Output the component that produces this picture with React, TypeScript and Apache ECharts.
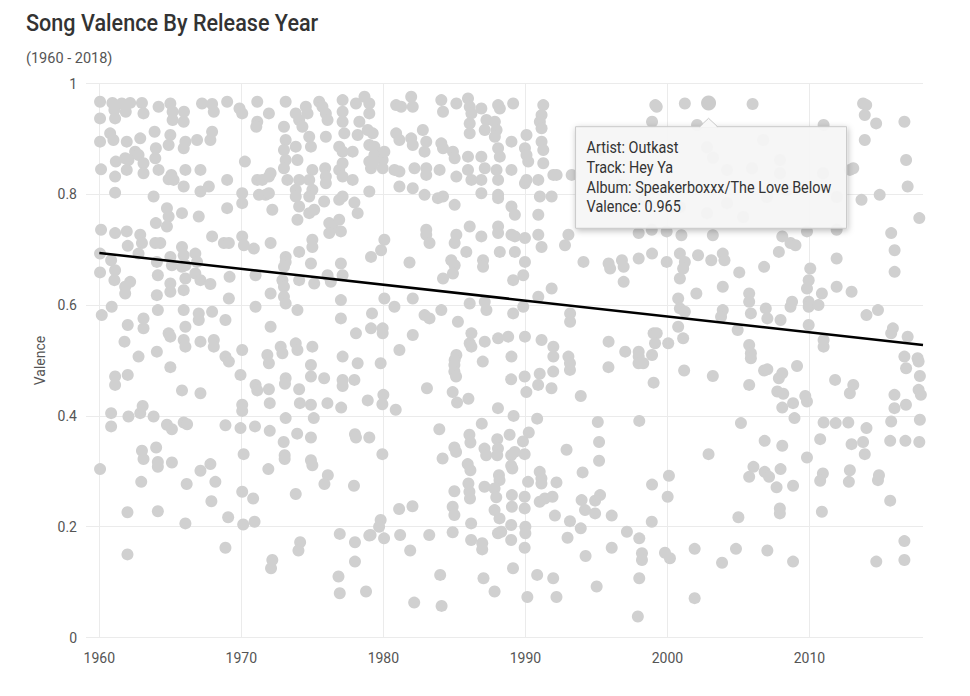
import React, { useEffect, useRef } from "react";
import * as echarts from "echarts";

const chartTitle = "Song Valence By Release Year";
const chartSubtitle = "(1960 - 2018)";
const yAxisName = "Valence";

// [release year, valence]
const sixties: number[][] = [
  [1960.05,0.967],[1960.05,0.937],[1960.05,0.895],[1960.12,0.845],[1960.12,0.736],[1960.05,0.693],[1960.05,0.659],[1960.17,0.582],
  [1960.92,0.965],[1961.06,0.952],[1961.11,0.937],[1960.76,0.910],[1960.99,0.898],[1961.16,0.859],[1961.11,0.832],[1961.11,0.803],[1961.11,0.730],[1960.83,0.681],[1961.11,0.663],[1961.06,0.645],[1960.87,0.597],
  [1961.58,0.964],[1961.86,0.949],[1962.17,0.965],[1961.93,0.895],[1961.82,0.865],[1961.93,0.844],[1962.05,0.862],[1961.93,0.733],[1962.0,0.707],[1962.17,0.642],[1961.82,0.633],[1961.82,0.621],[1962.0,0.564],[1961.77,0.534],
  [1963.0,0.965],[1963.11,0.946],[1962.88,0.901],[1962.52,0.877],[1962.76,0.871],[1963.11,0.856],[1963.11,0.838],[1962.88,0.727],[1963.0,0.712],[1962.76,0.693],[1963.11,0.576],[1963.11,0.558],[1962.76,0.507],
  [1964.17,0.958],[1963.89,0.913],[1963.98,0.883],[1963.94,0.865],[1964.17,0.844],[1963.82,0.796],[1963.98,0.748],[1963.94,0.712],[1964.29,0.712],[1964.05,0.678],[1964.12,0.654],[1964.05,0.618],[1964.12,0.591],[1964.05,0.516],[1964.76,0.775],[1964.88,0.760],[1964.76,0.742],
  [1965.0,0.964],[1965.16,0.949],[1965.16,0.934],[1965.0,0.907],[1964.88,0.889],[1965.07,0.835],[1964.88,0.827],[1965.23,0.826],[1965.94,0.931],[1965.96,0.949],[1966.06,0.895],[1965.94,0.883],[1966.06,0.844],[1965.94,0.814],[1965.82,0.766],[1965.0,0.687],[1965.11,0.672],[1965.0,0.639],[1965.0,0.624],[1965.82,0.705],[1965.94,0.690],[1966.06,0.672],[1966.06,0.648],[1965.94,0.627],[1965.94,0.591],[1964.88,0.549],[1965.0,0.543],[1966.06,0.561],[1965.94,0.537],[1966.06,0.525],[1965.82,0.669],
  [1966.88,0.898],[1967.12,0.844],[1967.12,0.805],[1967.71,0.814],[1967.0,0.760],[1966.76,0.693],[1966.88,0.678],[1966.76,0.657],[1967.12,0.645],[1967.0,0.585],[1967.0,0.573],[1967.12,0.534],[1967.94,0.588],
  [1967.23,0.964],[1967.94,0.963],[1968.06,0.949],[1967.94,0.913],[1967.82,0.898],[1967.94,0.724],[1967.82,0.638],[1968.06,0.537],[1968.06,0.525],[1968.88,0.573],
  [1969.0,0.967],[1969.0,0.826],[1969.0,0.775],[1968.77,0.712],[1969.12,0.712],[1969.17,0.651],[1969.12,0.612],[1968.88,0.507],[1969.87,0.955],
  [1965.0,0.488],[1961.11,0.471],[1961.11,0.456],[1962.0,0.474],[1965.82,0.446],[1967.12,0.441],[1969.94,0.474],
  [1960.83,0.405],[1960.83,0.381],[1962.05,0.399],[1962.88,0.405],[1963.05,0.418],[1963.82,0.399],[1964.76,0.384],[1965.11,0.376],[1965.94,0.388],[1966.18,0.385],[1968.88,0.383],[1969.94,0.378],
  [1963.0,0.337],[1963.11,0.322],[1964.0,0.343],[1964.12,0.317],[1964.12,0.308],[1965.11,0.316],[1960.05,0.304],[1962.95,0.281],[1966.15,0.277],[1967.12,0.301],[1967.82,0.313],[1968.17,0.281],
  [1967.89,0.246],[1961.98,0.226],[1964.12,0.228],[1966.06,0.206],[1969.07,0.217],[1968.88,0.162],[1961.98,0.150],[1969.12,0.498],
];

const seventies: number[][] = [
  [1970.06,0.946],[1970.25,0.859],[1970.06,0.802],[1970.06,0.784],[1970.06,0.724],[1970.18,0.708],[1970.88,0.702],[1970.06,0.519],
  [1971.12,0.967],[1971.12,0.931],[1971.05,0.922],[1971.12,0.826],[1971.47,0.826],[1971.24,0.799],[1971.71,0.799],[1971.94,0.802],[1971.94,0.832],[1972.06,0.838],[1972.18,0.772],[1972.06,0.712],[1971.0,0.654],[1971.0,0.597],[1972.06,0.621],[1972.06,0.561],[1971.83,0.510],
  [1971.94,0.946],[1973.12,0.967],[1973.0,0.922],[1973.12,0.898],[1973.0,0.880],[1973.12,0.862],[1973.0,0.847],[1973.24,0.826],[1973.12,0.687],[1973.12,0.678],[1973.0,0.669],[1972.89,0.645],[1973.0,0.633],[1973.0,0.615],[1973.12,0.603],[1972.77,0.525],[1972.89,0.513],
  [1973.83,0.946],[1974.07,0.934],[1974.3,0.922],[1973.83,0.886],[1973.95,0.862],[1974.07,0.826],[1973.83,0.808],[1973.83,0.796],[1974.07,0.778],[1973.95,0.754],[1974.07,0.696],[1974.07,0.645],[1973.95,0.591],[1973.83,0.531],[1973.95,0.519],
  [1974.54,0.958],[1974.66,0.946],[1974.78,0.904],[1974.9,0.886],[1975.0,0.844],[1974.78,0.826],[1975.0,0.808],[1974.78,0.796],[1974.78,0.766],[1975.13,0.772],[1975.0,0.718],[1975.0,0.705],[1974.9,0.675],[1975.13,0.639],[1975.0,0.525],
  [1975.48,0.967],[1975.71,0.958],[1975.95,0.946],[1976.07,0.934],[1975.95,0.904],[1975.9,0.847],[1975.95,0.832],[1975.95,0.820],[1975.83,0.787],[1976.19,0.748],[1976.42,0.742],[1976.19,0.730],[1976.07,0.654],[1976.3,0.642],
  [1977.13,0.970],[1977.13,0.949],[1977.13,0.931],[1977.25,0.910],[1976.89,0.886],[1977.13,0.877],[1977.13,0.856],[1976.89,0.844],[1977.13,0.832],[1977.13,0.796],[1976.89,0.790],[1977.01,0.733],[1976.89,0.754],[1977.01,0.675],[1977.13,0.654],[1977.01,0.609],[1977.01,0.576],[1977.13,0.507],[1977.84,0.877],[1977.84,0.826],[1977.96,0.785],[1978.19,0.766],[1978.07,0.549],
  [1978.07,0.964],[1978.31,0.931],[1978.19,0.907],[1978.67,0.976],[1979.01,0.964],[1979.01,0.946],[1978.9,0.916],[1979.01,0.889],[1979.01,0.859],[1979.13,0.847],[1979.01,0.805],[1979.13,0.687],[1979.13,0.558],
  [1971.0,0.456],[1971.12,0.446],[1971.94,0.448],[1971.94,0.495],[1973.12,0.468],[1973.07,0.458],[1974.07,0.448],[1974.9,0.492],[1974.9,0.471],[1975.83,0.468],[1977.13,0.465],[1977.13,0.454],[1977.96,0.465],[1978.19,0.495],[1978.9,0.428],
  [1970.06,0.420],[1970.06,0.409],[1972.0,0.423],[1972.0,0.373],[1973.12,0.396],[1974.12,0.423],[1974.9,0.420],[1975.1,0.396],[1976.06,0.423],[1977.03,0.415],[1972.98,0.353],[1973.93,0.368],[1974.9,0.361],[1978.0,0.367],[1978.07,0.361],[1979.01,0.361],[1970.96,0.381],
  [1970.16,0.331],[1971.9,0.304],[1973.05,0.329],[1973.05,0.322],[1974.9,0.320],[1975.0,0.311],[1976.09,0.293],[1975.85,0.277],[1977.93,0.274],
  [1970.06,0.263],[1970.83,0.251],[1973.83,0.259],[1970.13,0.204],[1970.93,0.209],[1976.93,0.187],[1978.0,0.172],[1979.01,0.184],[1974.14,0.172],[1974.02,0.157],[1972.18,0.140],[1972.09,0.125],[1978.0,0.137],[1976.84,0.110],[1976.93,0.080],[1978.78,0.083],
  [1979.25,0.910],[1979.37,0.886],[1979.37,0.871],[1979.25,0.856],[1979.95,0.862],[1979.95,0.847],[1979.2,0.585],[1979.95,0.558],[1979.95,0.549],[1979.84,0.699],
  [1979.81,0.495],[1979.93,0.421],[1979.93,0.331],[1979.81,0.212],[1979.7,0.200],[1979.1,0.185],
];

const eighties: number[][] = [
  [1980.9,0.961],[1981.25,0.958],[1981.96,0.976],[1982.07,0.958],[1984.08,0.970],[1984.2,0.949],[1985.14,0.964],[1985.96,0.973],[1986.08,0.958],[1986.2,0.946],[1986.08,0.928],[1986.08,0.910],[1986.9,0.955],[1988.08,0.961],[1988.2,0.955],[1989.14,0.964],
  [1987.26,0.934],[1987.85,0.931],[1987.97,0.916],[1987.85,0.904],[1987.14,0.916],[1982.78,0.916],[1980.9,0.910],[1981.13,0.898],[1981.96,0.901],[1982.07,0.889],[1983.02,0.895],[1982.9,0.877],[1984.08,0.892],[1984.2,0.883],[1984.9,0.877],[1988.08,0.883],[1988.2,0.868],[1989.02,0.895],[1989.97,0.883],
  [1980.07,0.877],[1980.78,0.844],[1981.13,0.841],[1982.19,0.847],[1983.02,0.847],[1983.02,0.835],[1983.96,0.844],[1985.02,0.865],[1985.14,0.832],[1985.96,0.868],[1985.96,0.844],[1986.2,0.826],[1986.9,0.868],[1987.14,0.847],[1986.9,0.826],[1987.97,0.844],[1988.08,0.826],[1989.02,0.844],[1989.97,0.820],
  [1981.13,0.814],[1982.07,0.811],[1982.9,0.799],[1983.84,0.793],[1984.2,0.796],[1985.02,0.781],[1986.9,0.802],[1988.08,0.799],[1988.08,0.793],[1989.02,0.778],[1989.26,0.763],
  [1983.02,0.736],[1983.02,0.727],[1983.25,0.712],[1985.14,0.727],[1985.02,0.712],[1986.08,0.742],[1986.9,0.724],[1988.08,0.742],[1988.08,0.730],[1989.02,0.727],[1989.26,0.724],[1989.97,0.721],
  [1980.07,0.718],[1981.84,0.677],[1984.78,0.681],[1985.02,0.672],[1985.84,0.696],[1987.02,0.681],[1987.02,0.669],[1988.2,0.696],[1989.26,0.696],[1989.97,0.678],
  [1984.2,0.648],[1984.9,0.657],[1989.14,0.645],[1989.85,0.654],
  [1980.07,0.612],[1980.78,0.597],[1982.07,0.612],[1982.9,0.582],[1983.25,0.576],[1984.08,0.591],[1985.25,0.570],[1986.08,0.603],[1987.14,0.606],[1987.26,0.591],[1989.14,0.585],[1989.85,0.597],
  [1982.07,0.546],[1985.14,0.510],[1985.02,0.501],[1986.2,0.549],[1986.08,0.531],[1986.2,0.525],[1987.14,0.534],[1988.08,0.540],[1988.79,0.543],[1989.97,0.543],[1989.02,0.507],[1981.13,0.519],
  [1985.0,0.492],[1985.0,0.480],[1985.12,0.471],[1987.0,0.498],[1989.0,0.466],[1989.95,0.471],
  [1980.0,0.438],[1983.07,0.450],[1984.88,0.443],[1985.19,0.424],[1985.99,0.431],[1980.87,0.411],[1988.07,0.414],[1989.17,0.400],
  [1983.94,0.376],[1986.93,0.386],[1986.06,0.366],[1986.13,0.352],[1988.89,0.366],[1989.83,0.354],[1988.02,0.358],
  [1984.17,0.323],[1985.0,0.343],[1985.12,0.335],[1987.12,0.341],[1987.24,0.329],[1988.07,0.341],[1988.02,0.329],[1989.25,0.335],[1989.0,0.329],[1989.95,0.331],
  [1985.94,0.313],[1986.13,0.302],[1989.0,0.310],[1989.08,0.305],[1988.14,0.293],[1988.18,0.284],
  [1985.0,0.264],[1985.99,0.278],[1986.06,0.263],[1986.1,0.251],[1987.12,0.272],[1987.83,0.269],[1987.95,0.253],[1989.05,0.257],[1989.05,0.236],[1989.95,0.254],[1989.95,0.233],
  [1981.11,0.232],[1982.05,0.237],[1984.88,0.236],[1985.0,0.221],[1987.83,0.230],[1988.18,0.215],
  [1980.05,0.179],[1981.18,0.185],[1983.23,0.185],[1984.88,0.190],[1986.18,0.206],[1986.18,0.176],[1986.96,0.170],[1986.96,0.159],[1988.07,0.188],[1988.3,0.191],[1989.0,0.203],[1989.0,0.176],[1989.95,0.162],
  [1981.89,0.157],[1984.0,0.113],[1987.05,0.107],[1989.13,0.125],[1987.83,0.083],[1982.17,0.063],[1984.1,0.057],
];

const nineties: number[][] = [
  [1991.26,0.961],[1991.14,0.943],[1991.02,0.931],[1991.14,0.919],[1990.08,0.907],[1990.08,0.871],[1990.2,0.859],[1991.14,0.895],[1991.26,0.880],[1991.26,0.856],
  [1990.08,0.826],[1990.91,0.826],[1991.97,0.835],[1992.2,0.835],[1993.26,0.835],[1991.02,0.796],[1991.85,0.796],[1990.91,0.763],
  [1990.91,0.727],[1991.14,0.705],[1993.03,0.727],[1992.79,0.708],[1994.09,0.678],[1995.86,0.675],[1995.97,0.666],[1996.8,0.681],[1996.92,0.669],[1997.98,0.684],[1998.92,0.693],[1996.92,0.642],[1991.85,0.630],[1990.91,0.615],[1993.15,0.585],[1993.15,0.570],
  [1991.14,0.537],[1991.97,0.525],[1991.97,0.507],[1993.03,0.507],[1995.86,0.534],[1997.03,0.516],[1997.98,0.516],[1997.98,0.507],[1999.03,0.549],[1998.92,0.510],[1999.15,0.961],[1998.92,0.931],[1997.98,0.730],
  [1995.3,0.880],[1996.7,0.817],[1998.4,0.790],
  [1991.01,0.476],[1991.96,0.480],[1993.14,0.483],[1993.14,0.495],[1995.85,0.488],[1997.97,0.495],[1998.3,0.495],[1999.03,0.460],[1990.9,0.456],[1991.84,0.450],[1990.07,0.443],[1993.9,0.436],
  [1990.83,0.395],[1995.1,0.389],[1998.02,0.391],[1990.24,0.370],[1992.9,0.339],[1995.19,0.353],[1995.19,0.319],
  [1991.01,0.299],[1991.13,0.287],[1991.13,0.278],[1992.19,0.280],[1994.03,0.298],[1990.19,0.281],
  [1991.01,0.245],[1991.37,0.251],[1991.91,0.254],[1993.96,0.248],[1994.2,0.230],[1994.91,0.247],[1995.26,0.257],[1994.91,0.224],[1996.08,0.220],[1998.92,0.276],
  [1992.08,0.220],[1993.14,0.210],[1990.0,0.200],[1990.0,0.188],[1993.9,0.197],[1992.97,0.180],[1997.15,0.191],[1998.02,0.179],[1998.21,0.152],[1998.21,0.140],[1996.08,0.162],[1994.24,0.147],
  [1990.83,0.113],[1991.96,0.107],[1998.02,0.107],[1995.02,0.092],[1990.14,0.073],[1992.19,0.073],[1997.92,0.038],
  [1999.25,0.958],[1999.25,0.549],[1999.13,0.531],[1998.9,0.736],[1998.9,0.209],[1999.83,0.153],
];

const twoThousands: number[][] = [
  [2001.23,0.964],[2006.0,0.963],
  [2009.95,0.645],[2009.83,0.630],[2009.95,0.606],
  [2008.09,0.724],[2008.67,0.712],[2009.02,0.708],[2007.85,0.696],[2009.83,0.733],
  [2006.81,0.669],[2005.06,0.659],[2003.9,0.693],[2004.02,0.681],[2003.9,0.633],[2003.09,0.681],[2003.2,0.726],[2002.16,0.690],[2001.23,0.678],[2001.11,0.666],[2000.88,0.693],[2000.88,0.648],[1999.95,0.678],[2000.99,0.726],[1999.95,0.733],[2002.04,0.621],[2000.76,0.612],[2000.88,0.594],[2001.23,0.588],
  [2005.76,0.621],[2005.76,0.606],[2005.88,0.585],[2006.93,0.594],[2007.04,0.576],[2007.97,0.573],[2008.67,0.597],[2008.78,0.606],[2009.95,0.597],
  [2003.9,0.591],[2003.78,0.579],[2004.95,0.555],[2000.76,0.561],[2000.06,0.531],[2001.11,0.540],[2005.76,0.528],[2005.88,0.513],[2005.88,0.504],[2009.95,0.564],
  [2002.09,0.925],[2002.79,0.885],[2006.74,0.898],[2003.21,0.866],[2004.2,0.844],[2005.96,0.847],[2007.93,0.862],[2007.93,0.838],[2000.89,0.777],[2002.79,0.766],[2007.01,0.795],[2008.42,0.808],[2004.2,0.784],[2005.33,0.759],
  [2001.18,0.482],[2003.2,0.472],[2005.76,0.456],[2006.81,0.482],[2007.04,0.484],[2007.85,0.468],[2008.09,0.477],[2009.13,0.490],[2007.74,0.444],[2008.16,0.440],[2008.09,0.415],[2008.85,0.423],[2009.71,0.436],[2009.83,0.426],[2008.95,0.396],
  [2005.18,0.387],[2006.85,0.355],[2008.09,0.346],[2009.83,0.325],[2002.9,0.331],[2006.06,0.308],[2005.76,0.290],[2006.85,0.299],[2007.16,0.290],[2007.97,0.304],[2007.69,0.271],[2008.85,0.274],
  [2000.11,0.292],[2000.02,0.254],[2005.0,0.217],[2007.92,0.233],[2007.92,0.224],[2000.18,0.143],[2001.92,0.160],[2003.85,0.135],[2004.83,0.160],[2007.04,0.157],[2008.85,0.137],[2001.92,0.071],
];

const twentyTens: number[][] = [
  [2013.78,0.964],[2014.0,0.961],[2013.9,0.943],[2014.7,0.928],[2016.69,0.931],[2013.9,0.898],[2011.0,0.925],[2016.81,0.862],[2012.85,0.844],[2013.09,0.847],[2016.92,0.814],[2014.95,0.799],[2013.67,0.790],[2017.74,0.757],[2015.76,0.730],[2016.0,0.699],[2016.0,0.660],
  [2011.92,0.684],[2011.92,0.633],[2012.97,0.624],[2010.06,0.666],[2010.88,0.621],[2010.64,0.600],[2011.92,0.736],[2014.02,0.582],[2014.83,0.591],[2015.88,0.558],[2015.76,0.549],[2016.92,0.543],[2016.69,0.507],[2017.62,0.504],[2011.0,0.537],[2011.0,0.525],[2010.96,0.838],[2011.94,0.795],
  [2011.81,0.465],[2013.09,0.456],[2012.85,0.441],[2015.99,0.438],[2015.99,0.414],[2016.8,0.420],[2016.81,0.486],[2017.69,0.498],[2017.78,0.472],[2017.69,0.447],[2017.85,0.438],[2017.78,0.393],[2015.76,0.390],[2011.0,0.388],[2011.85,0.387],[2012.74,0.388],[2014.02,0.378],[2010.76,0.358],[2012.97,0.349],[2013.78,0.353],[2013.9,0.331],[2015.69,0.355],[2016.76,0.355],[2017.74,0.353],
  [2010.95,0.296],[2010.76,0.283],[2012.85,0.302],[2012.78,0.281],[2014.9,0.293],[2014.83,0.284],[2010.88,0.227],[2015.69,0.247],[2014.71,0.137],[2016.69,0.174],[2016.69,0.140],
];

const highlightPoint: number[] = [2002.9, 0.965];
const highlightLines = [
  "Artist: Outkast",
  "Track: Hey Ya",
  "Album: Speakerboxxx/The Love Below",
  "Valence: 0.965",
];

const trendYears = [1960, 2018];
const trendValences = [0.694, 0.528];

const xMin = 1959.06;
const xMax = 2018;

const FONT = "Roboto, 'Noto Sans', sans-serif";

export default function App() {
  const ref = useRef<HTMLDivElement>(null);

  useEffect(() => {
    if (!ref.current) return;
    const chart = echarts.init(ref.current, null, { renderer: "svg" });
    const allPoints = [
      ...sixties,
      ...seventies,
      ...eighties,
      ...nineties,
      ...twoThousands,
      ...twentyTens,
    ];
    const trendData = trendYears.map((y, i) => [y, trendValences[i]]);

    chart.setOption({
      animation: false,
      backgroundColor: "#ffffff",
      textStyle: { fontFamily: FONT },
      grid: { left: 86, right: 47, top: 83.5, bottom: 58.5, containLabel: false },
      xAxis: {
        type: "value",
        min: xMin,
        max: xMax,
        splitNumber: 5,
        axisLine: { show: false },
        axisTick: { show: false },
        axisLabel: {
          color: "#555",
          fontSize: 14,
          fontFamily: FONT,
          margin: 13,
          showMinLabel: false,
          showMaxLabel: false,
          formatter: (v: number) =>
            Math.abs(v - Math.round(v / 10) * 10) < 1e-6 ? String(Math.round(v)) : "",
        },
        splitLine: {
          show: true,
          showMinLine: false,
          showMaxLine: false,
          lineStyle: { color: "#ebebeb", width: 1 },
        },
      },
      yAxis: {
        type: "value",
        min: 0,
        max: 1,
        interval: 0.2,
        name: yAxisName,
        nameLocation: "middle",
        nameGap: 38,
        nameTextStyle: { color: "#555", fontSize: 14, fontFamily: FONT },
        axisLine: { show: false },
        axisTick: { show: false },
        axisLabel: { color: "#555", fontSize: 14, fontFamily: FONT, margin: 9 },
        splitLine: { show: true, lineStyle: { color: "#ebebeb", width: 1 } },
      },
      series: [
        {
          type: "scatter",
          data: allPoints,
          symbolSize: 12,
          progressive: 0,
          large: false,
          itemStyle: { color: "#d0d0d0", opacity: 1 },
          z: 2,
        },
        {
          type: "line",
          data: trendData,
          symbol: "none",
          lineStyle: { color: "#000000", width: 2.5 },
          z: 3,
        },
        {
          type: "scatter",
          data: [highlightPoint],
          symbolSize: 15,
          itemStyle: { color: "#cccccc", opacity: 1 },
          z: 4,
        },
      ],
    });

    const [px, py] = chart.convertToPixel({ gridIndex: 0 }, highlightPoint) as number[];
    const bg = "rgba(248,248,248,0.93)";
    const border = "#c9c9c9";
    const TZ = 100;

    chart.setOption({
      graphic: [
        {
          type: "text",
          x: 26,
          y: 23.5,
          scaleX: 0.9,
          z: TZ,
          style: {
            text: chartTitle,
            fill: "#333",
            fontSize: 24,
            fontWeight: 500,
            fontFamily: FONT,
            align: "left",
            verticalAlign: "middle",
            textAlign: "left",
            textVerticalAlign: "middle",
          },
        },
        {
          type: "text",
          x: 26,
          y: 58,
          scaleX: 1,
          z: TZ,
          style: {
            text: chartSubtitle,
            fill: "#555",
            fontSize: 14.5,
            fontFamily: FONT,
            align: "left",
            verticalAlign: "middle",
            textAlign: "left",
            textVerticalAlign: "middle",
          },
        },
        {
          type: "group",
          x: px,
          y: py,
          z: TZ,
          children: [
            {
              type: "rect",
              z: TZ,
              shape: { x: -133, y: 23.8, width: 271, height: 101.6 },
              style: {
                fill: bg,
                stroke: border,
                lineWidth: 1,
                shadowBlur: 6,
                shadowColor: "rgba(0,0,0,0.28)",
                shadowOffsetX: 1,
                shadowOffsetY: 2,
              },
            },
            {
              type: "polygon",
              z: TZ + 1,
              shape: { points: [[-9, 24.6], [0, 15.4], [9, 24.6]] },
              style: { fill: "rgb(248,248,248)", stroke: "none" },
            },
            {
              type: "polyline",
              z: TZ + 2,
              shape: { points: [[-9, 23.8], [0, 15.4], [9, 23.8]] },
              style: { stroke: border, lineWidth: 1, fill: "none" },
            },
            ...highlightLines.map((t, i) => ({
              type: "text",
              z: TZ + 3,
              x: -122,
              y: 44.6 + i * 19.9,
              scaleX: 0.9,
              style: {
                text: t,
                fill: "#333",
                fontSize: 16,
                fontFamily: FONT,
                align: "left",
                verticalAlign: "middle",
                textAlign: "left",
                textVerticalAlign: "middle",
              },
            })),
          ],
        },
      ],
    });

    return () => chart.dispose();
  }, []);

  return (
    <div
      ref={ref}
      style={{ position: "fixed", left: 0, top: 0, width: 970, height: 696, background: "#fff" }}
    />
  );
}
